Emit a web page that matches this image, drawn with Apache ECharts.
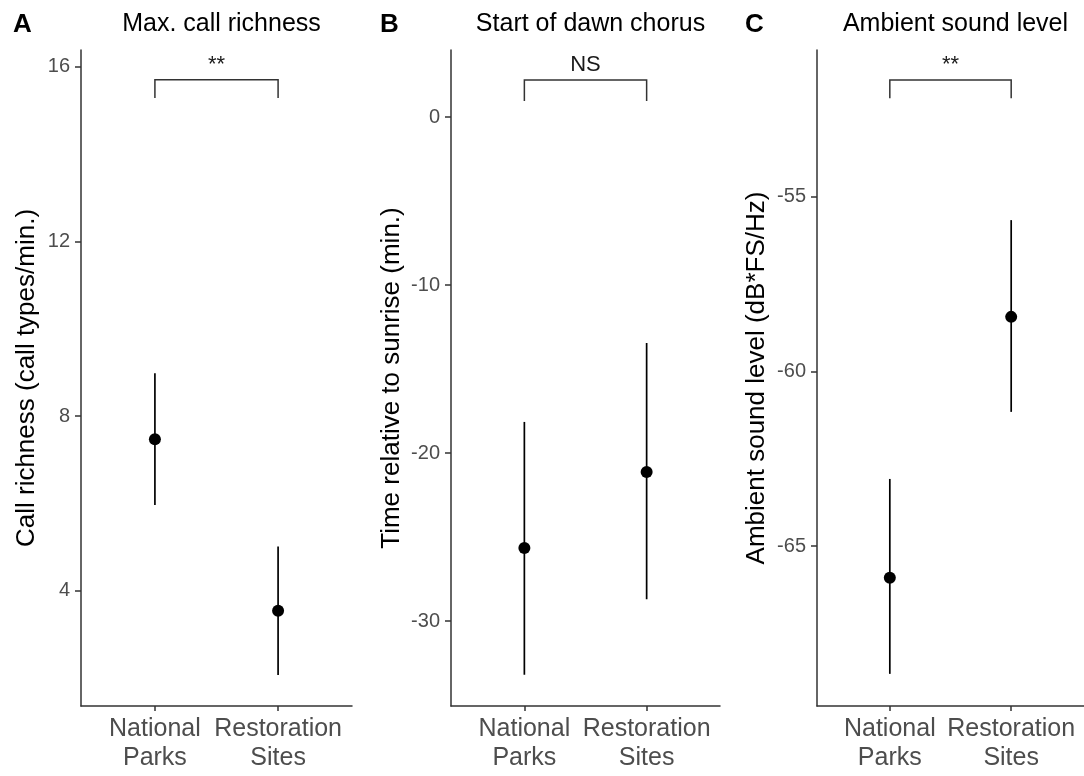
<!DOCTYPE html>
<html>
<head>
<meta charset="utf-8">
<script src="https://cdn.jsdelivr.net/npm/echarts@6/dist/echarts.min.js"></script>
<style>html,body{margin:0;padding:0;background:#fff}#c{width:1084px;height:776px}</style>
</head>
<body>
<div id="c"></div>
<script>
// ---- data ----
const categories = ['National\nParks', 'Restoration\nSites'];
const panelLetters = ['A', 'B', 'C'];
const panelTitles = ['Max. call richness', 'Start of dawn chorus', 'Ambient sound level'];
const axisTitles = ['Call richness (call types/min.)', 'Time relative to sunrise (min.)', 'Ambient sound level (dB*FS/Hz)'];

const richnessMean = [7.47, 3.54];
const richnessLow = [5.96, 2.07];
const richnessHigh = [8.98, 5.01];

const dawnMean = [-25.65, -21.13];
const dawnLow = [-33.2, -28.7];
const dawnHigh = [-18.15, -13.45];

const ambientMean = [-65.91, -58.44];
const ambientLow = [-68.66, -61.16];
const ambientHigh = [-63.08, -55.67];

const richnessTicks = [4, 8, 12, 16];
const dawnTicks = [-30, -20, -10, 0];
const ambientTicks = [-65, -60, -55];

const signifLabels = ['**', 'NS', '**'];
const bracketTop = [15.70, 2.2, -51.66];
const bracketEnd = [15.28, 0.95, -52.18];

const yMin = [1.36, -35.06, -69.58];
const yMax = [16.38, 3.99, -50.8];

// ---- layout ----
const FONT = 'Liberation Sans, Arial, sans-serif';
const grids = [
  {left: 81, width: 271, top: 50, bottom: 70},
  {left: 451, width: 269, top: 50, bottom: 70},
  {left: 817, width: 267, top: 50, bottom: 70}
];
const nameGaps = [41, 46, 47];
const means = [richnessMean, dawnMean, ambientMean];
const lows = [richnessLow, dawnLow, ambientLow];
const highs = [richnessHigh, dawnHigh, ambientHigh];
const ticks = [richnessTicks, dawnTicks, ambientTicks];
const catPos = categories.map((c, i) => i + 1);

const xAxes = [], yAxes = [], series = [], titles = [];
grids.forEach((g, k) => {
  xAxes.push({
    type: 'value', gridIndex: k, min: 0.4, max: 2.6,
    splitLine: {show: false},
    axisLine: {show: true, onZero: false, lineStyle: {color: '#333', width: 1.5}},
    axisTick: {show: true, customValues: catPos, length: 5, lineStyle: {color: '#333', width: 1.5}},
    axisLabel: {customValues: catPos, formatter: v => categories[Math.round(v) - 1] || '',
      color: '#4d4d4d', fontSize: 25, fontFamily: FONT, lineHeight: 29, margin: 9}
  });
  yAxes.push({
    type: 'value', gridIndex: k, min: yMin[k], max: yMax[k],
    splitLine: {show: false},
    axisLine: {show: true, onZero: false, lineStyle: {color: '#333', width: 1.5}},
    axisTick: {show: true, customValues: ticks[k], length: 6, lineStyle: {color: '#333', width: 1.5}},
    axisLabel: {customValues: ticks[k], color: '#4d4d4d', fontSize: 20, fontFamily: FONT, margin: 11},
    name: axisTitles[k], nameLocation: 'middle', nameGap: nameGaps[k],
    nameTextStyle: {color: '#000', fontSize: 26, fontFamily: FONT}
  });
  series.push({
    type: 'custom', xAxisIndex: k, yAxisIndex: k,
    data: catPos.map((x, i) => [x, lows[k][i], highs[k][i]]),
    encode: {x: 0, y: [1, 2]},
    renderItem: (params, api) => {
      const x = api.value(0);
      const p1 = api.coord([x, api.value(1)]);
      const p2 = api.coord([x, api.value(2)]);
      return {type: 'line', shape: {x1: p1[0], y1: p1[1], x2: p2[0], y2: p2[1]},
        style: {stroke: '#000', lineWidth: 1.7}};
    },
    silent: true, z: 2
  });
  series.push({
    type: 'scatter', xAxisIndex: k, yAxisIndex: k,
    data: catPos.map((x, i) => [x, means[k][i]]),
    symbol: 'circle', symbolSize: 12, itemStyle: {color: '#000', opacity: 1},
    silent: true, z: 3
  });
  series.push({
    type: 'custom', xAxisIndex: k, yAxisIndex: k,
    data: [[1, 2, bracketTop[k], bracketEnd[k]]],
    encode: {x: [0, 1], y: [2, 3]},
    renderItem: (params, api) => {
      const x1 = api.value(0), x2 = api.value(1), yt = api.value(2), ye = api.value(3);
      const a = api.coord([x1, ye]), b = api.coord([x1, yt]), c = api.coord([x2, yt]), d = api.coord([x2, ye]);
      return {type: 'group', children: [
        {type: 'polyline', shape: {points: [a, b, c, d]}, style: {stroke: '#333', lineWidth: 1.5, fill: null}},
        {type: 'text', x: (b[0] + c[0]) / 2, y: b[1] - 4,
          style: {text: signifLabels[k], fill: '#1a1a1a', font: '22px ' + FONT, align: 'center', verticalAlign: 'bottom'}}
      ]};
    },
    silent: true, z: 2
  });
  titles.push({
    text: panelTitles[k], left: g.left + g.width / 2, top: 7, textAlign: 'center',
    textStyle: {color: '#000', fontSize: 25, fontWeight: 'normal', fontFamily: FONT}
  });
});
[8, 375, 740].forEach((x, k) => titles.push({
  text: panelLetters[k], left: x, top: 7,
  textStyle: {color: '#000', fontSize: 26, fontWeight: 'bold', fontFamily: FONT}
}));

const chart = echarts.init(document.getElementById('c'), null, {renderer: 'canvas'});
chart.setOption({
  animation: false,
  backgroundColor: '#fff',
  title: titles,
  grid: grids,
  xAxis: xAxes,
  yAxis: yAxes,
  series: series
});
</script>
</body>
</html>
